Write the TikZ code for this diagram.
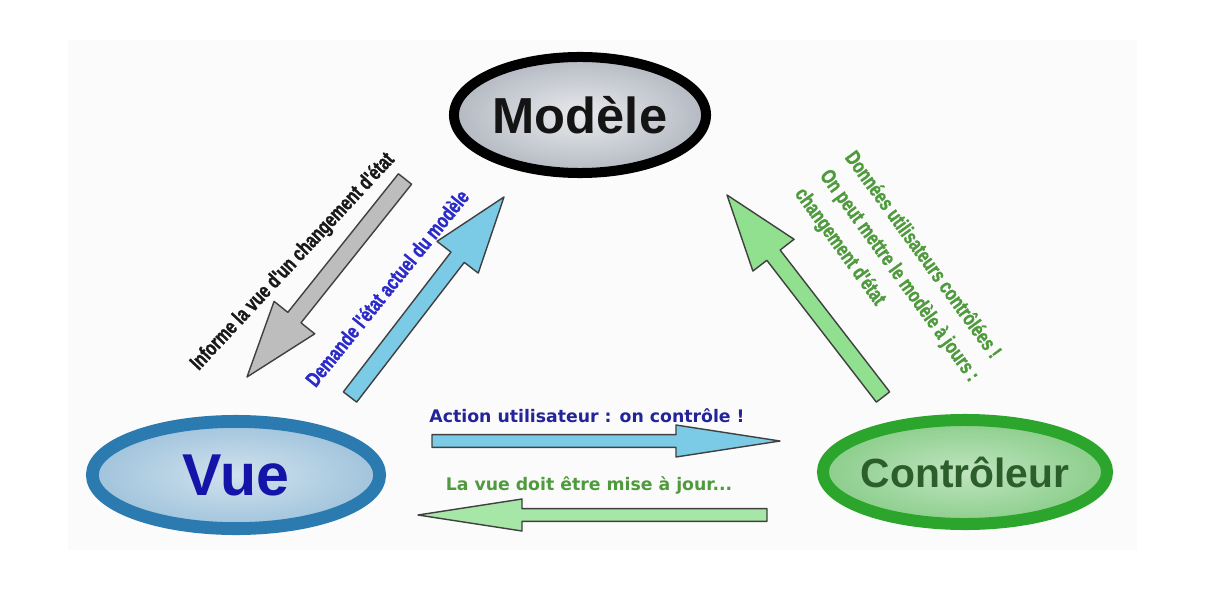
\documentclass[tikz,border=0pt]{standalone}
\usepackage{fontspec}
\setmainfont{Liberation Sans}
\newfontfamily\narrowfont[FakeStretch=0.75,FakeBold=1.2]{Liberation Sans}
\newfontfamily\verdafont{DejaVu Sans}
\usetikzlibrary{shapes.geometric,calc,shadows}

\definecolor{modelefill}{HTML}{B4B9C2}
\definecolor{vueblue}{HTML}{2B7AB0}
\definecolor{vuetext}{HTML}{1414A8}
\definecolor{ctrlgreen}{HTML}{2CA52C}
\definecolor{ctrltext}{HTML}{2C5E2C}
\definecolor{labelblue}{HTML}{2B2BC8}
\definecolor{labelgreen}{HTML}{4E9A3C}
\definecolor{actionblue}{HTML}{23239A}
\definecolor{arrowgray}{HTML}{BDBDBD}
\definecolor{arrowblue}{HTML}{7CCBE6}
\definecolor{arrowgreen}{HTML}{90E090}

\tikzset{
  mvcnode/.style={ellipse, inner sep=0pt,
    drop shadow={opacity=0.25, shadow xshift=0.08cm, shadow yshift=-0.1cm}},
  arrowline/.style={draw=black!75, line width=1pt, line join=round},
  rotlabel/.style={inner sep=0pt, font=\narrowfont\bfseries\fontsize{15}{22}\selectfont},
  flatlabel/.style={inner sep=0pt, font=\verdafont\bfseries\fontsize{12.3}{14}\selectfont},
}

% tail, tip, fill, shaft half width, head half width, head length
\newcommand{\blockarrow}[6]{%
  \coordinate (hb) at ($(#2)!#6!(#1)$);
  \filldraw[arrowline, fill=#3]
    ($(#1)!#4!90:(#2)$) -- ($(hb)!#4!90:(#2)$) -- ($(hb)!#5!90:(#2)$) -- (#2)
    -- ($(hb)!#5!-90:(#2)$) -- ($(hb)!#4!-90:(#2)$) -- ($(#1)!#4!-90:(#2)$) -- cycle;
}

\begin{document}
\begin{tikzpicture}[x=0.025cm, y=-0.025cm]
    \useasboundingbox (0,0) rectangle (1207,590);
    \fill[black!1.5] (68,40) rectangle (1137,550);

    % the three parts
    \node (modele) [mvcnode, draw=black, line width=0.25cm,
        inner color=modelefill!30, outer color=modelefill,
        minimum width=6.3cm, minimum height=2.9cm,
        label={[font=\bfseries\fontsize{36}{40}\selectfont, text=black!92]center:Modèle}]
        at (580,115) {};
    \node (vue) [mvcnode, draw=vueblue, line width=0.32cm,
        inner color=vueblue!22, outer color=vueblue!45,
        minimum width=7.18cm, minimum height=2.68cm,
        label={[font=\bfseries\fontsize{42}{46}\selectfont, text=vuetext]center:Vue}]
        at (236,475) {};
    \node (ctrl) [mvcnode, draw=ctrlgreen, line width=0.3cm,
        inner color=ctrlgreen!30, outer color=ctrlgreen!55,
        minimum width=7.1cm, minimum height=2.6cm,
        label={[font=\bfseries\fontsize{29}{32}\selectfont, text=ctrltext]center:Contrôleur}]
        at (965,472) {};

    % arrow ends
    \coordinate (informTail) at (405,179);
    \coordinate (informTip) at (247,377);
    \coordinate (demandeTail) at (350,397);
    \coordinate (demandeTip) at (504,197);
    \coordinate (donneesTail) at (883,397);
    \coordinate (donneesTip) at (727,195);
    \coordinate (actionTail) at (432,441);
    \coordinate (actionTip) at (780,441);
    \coordinate (majTail) at (767,515);
    \coordinate (majTip) at (418,515);

    \blockarrow{informTail}{informTip}{arrowgray}{0.21cm}{0.65cm}{1.9cm}
    \blockarrow{demandeTail}{demandeTip}{arrowblue}{0.21cm}{0.65cm}{1.9cm}
    \blockarrow{donneesTail}{donneesTip}{arrowgreen}{0.21cm}{0.65cm}{1.9cm}
    \blockarrow{actionTail}{actionTip}{arrowblue}{0.16cm}{0.4cm}{2.6cm}
    \blockarrow{majTail}{majTip}{arrowgreen!80!white}{0.16cm}{0.4cm}{2.6cm}

    % texts
    \node (informText) [rotlabel, rotate=47, text=black!90] at (293,262)
        {Informe la vue d'un changement d'état};
    \node (demandeText) [rotlabel, rotate=51, text=labelblue] at (387,288)
        {Demande l'état actuel du modèle};
    \node (donneesText) [rotlabel, rotate=-54, align=left, text=labelgreen] at (899,276)
        {Données utilisateurs contrôlées !\\On peut mettre le modèle à jours :\\changement d'état};
    \node (actionText) [flatlabel, text=actionblue] at (587,416)
        {Action utilisateur : on contrôle !};
    \node (majText) [flatlabel, text=labelgreen] at (589,485)
        {La vue doit être mise à jour...};
\end{tikzpicture}
\end{document}
